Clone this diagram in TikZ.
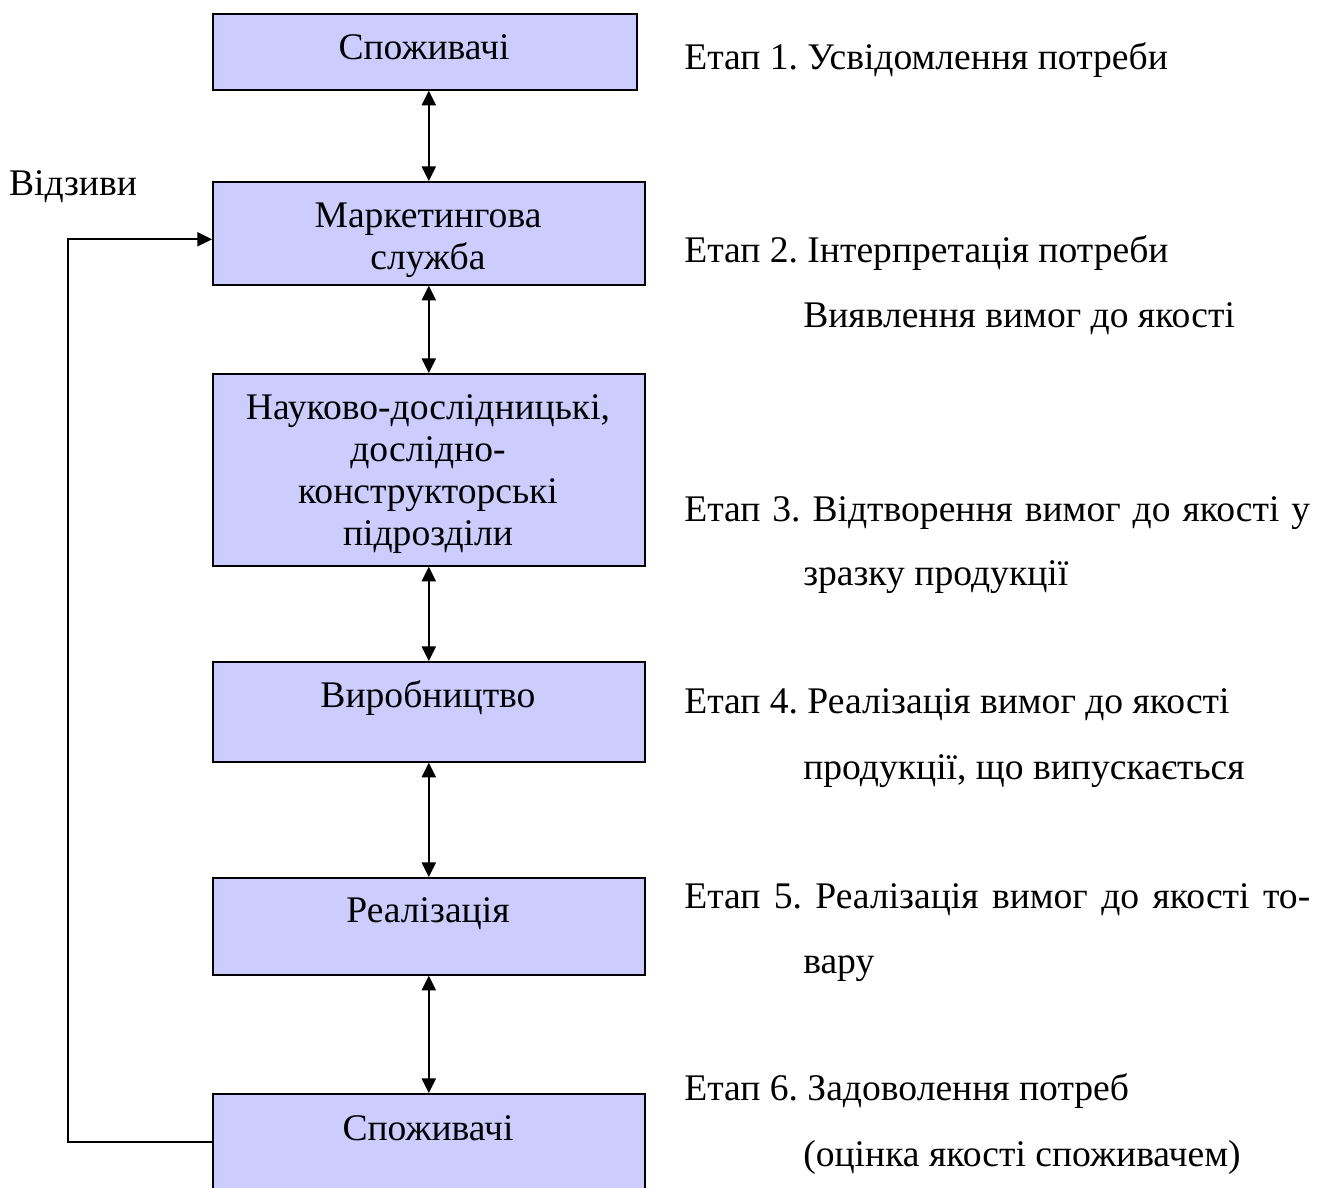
\documentclass[tikz,border=0pt]{standalone}
\usepackage{fontspec}
\setmainfont{Liberation Serif}
\usepackage{xcolor}
\usetikzlibrary{calc}
\usetikzlibrary{arrows.meta}
\definecolor{boxblue}{RGB}{204,204,255}
\frenchspacing
\tikzset{
  unit/.style={draw, line width=1.2pt, fill=boxblue, anchor=north west, inner sep=0pt},
  boxtext/.style={align=center, inner sep=0pt},
  stage/.style={anchor=west, inner sep=0pt, text height=0.7em, text depth=0.22em, yshift=-6pt},
  both/.style={{Triangle[length=11pt,width=10.5pt]}-{Triangle[length=11pt,width=10.5pt]}, line width=1.5pt},
  back/.style={-{Triangle[length=11pt,width=10.5pt]}, line width=1.5pt}
}
\begin{document}
\begin{tikzpicture}[x=0.75pt, y=-0.75pt, font=\fontsize{28.2}{31.5}\selectfont]
\useasboundingbox (0,0) rectangle (1333,1187);

\node[unit, minimum width=318pt, minimum height=57pt] (b1) at (212,13) {};
\node[unit, minimum width=324pt, minimum height=77.25pt] (b2) at (212,181) {};
\node[unit, minimum width=324pt, minimum height=144pt] (b3) at (212,373) {};
\node[unit, minimum width=324pt, minimum height=75pt] (b4) at (212,661) {};
\node[unit, minimum width=324pt, minimum height=72.75pt] (b5) at (212,877) {};
\node[unit, minimum width=324pt, minimum height=72pt] (b6) at (212,1093) {};

\node[boxtext] (l1) at (424,47) {Споживачі};
\node[boxtext] (l2) at (428,240) {Маркетингова\\служба};
\node[boxtext] (l3) at (428,474) {Науково-дослідницькі,\\дослідно-\\конструкторські\\підрозділи};
\node[boxtext] (l4) at (428,698) {Виробництво};
\node[boxtext] (l5) at (428,914) {Реалізація};
\node[boxtext] (l6) at (428,1128) {Споживачі};

\draw[both] (b2.north |- b1.south) -- (b2.north);
\draw[both] (b2.south) -- (b3.north);
\draw[both] (b3.south) -- (b4.north);
\draw[both] (b4.south) -- (b5.north);
\draw[both] (b5.south) -- (b6.north);

\coordinate (fbk) at (68,700);
\draw[back] (b6.west) -| (fbk) |- ([yshift=-4.5pt]b2.west);
\node[boxtext] (vidz) at (73,187) {Відзиви};

\node[stage] (s1) at (684,58) {Етап 1. Усвідомлення потреби};
\node[stage] (s2) at (684,251) {Етап 2. Інтерпретація потреби};
\node[stage] (s2b) at (803,316) {Виявлення вимог до якості};
\node[stage] (s3) at (684,510) {\makebox[469.5pt][s]{Етап 3. Відтворення вимог до якості у}};
\node[stage] (s3b) at (803,574) {зразку продукції};
\node[stage] (s4) at (684,702) {Етап 4. Реалізація вимог до якості};
\node[stage] (s4b) at (803,768) {продукції, що випускається};
\node[stage] (s5) at (684,897) {\makebox[469.5pt][s]{Етап 5. Реалізація вимог до якості то-}};
\node[stage] (s5b) at (803,962) {вару};
\node[stage] (s6) at (684,1089) {Етап 6. Задоволення потреб};
\node[stage] (s6b) at (803,1155) {(оцінка якості споживачем)};
\end{tikzpicture}
\end{document}
